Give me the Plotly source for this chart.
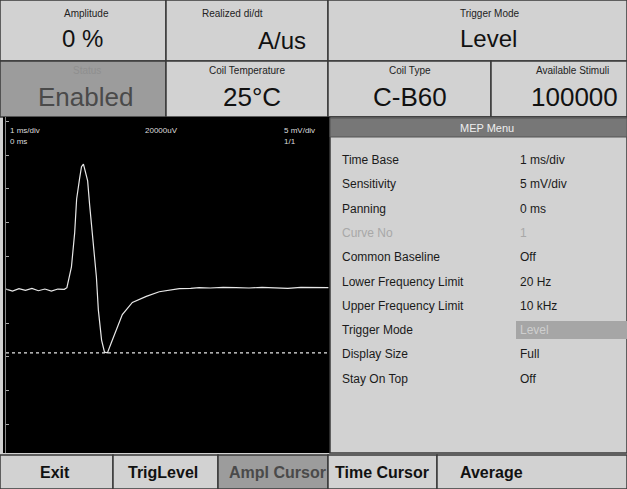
import plotly.graph_objects as go

# ---------------- data ----------------
time_ms = [0.10, 0.30, 0.50, 0.70, 0.90, 1.10, 1.30, 1.50, 1.70, 1.90, 1.98,
           2.06, 2.12, 2.22, 2.28, 2.37, 2.43, 2.49, 2.55, 2.62, 2.68, 2.77,
           2.89, 2.95, 3.05, 3.14, 3.23, 3.35, 3.51, 3.69, 4.00, 4.43, 4.83,
           5.20, 5.45, 5.80, 6.06, 6.40, 6.80, 7.20, 7.60, 8.00, 8.40, 8.80,
           9.20, 9.60, 10.05]
amplitude_mV = [0.1, -0.2, 0.15, -0.1, 0.2, -0.15, 0.1, -0.2, 0.1, 0.05, 0.3,
                1.9, 3.4, 8.5, 13.5, 16.5, 18.3, 18.7, 17.7, 16.2, 12.7, 8.5,
                1.9, -3.0, -7.5, -9.3, -9.4, -7.9, -6.0, -3.7, -1.9, -1.0, -0.3,
                0.0, 0.15, 0.2, 0.3, 0.25, 0.35, 0.3, 0.25, 0.35, 0.3, 0.2,
                0.35, 0.3, 0.3]
cursor_time_ms = [0.1, 10.1]
cursor_mV = [-9.4, -9.4]

top_labels = ["Amplitude", "Realized di/dt", "Trigger Mode",
              "Status", "Coil Temperature", "Coil Type", "Available Stimuli"]
top_values = ["0 %", "A/us", "Level", "Enabled", "25°C", "C-B60", "100000"]

scope_info = ["1 ms/div", "0 ms", "20000uV", "5 mV/div", "1/1"]

menu_title = "MEP Menu"
menu_items = ["Time Base", "Sensitivity", "Panning", "Curve No", "Common Baseline",
              "Lower Frequency Limit", "Upper Frequency Limit", "Trigger Mode",
              "Display Size", "Stay On Top"]
menu_values = ["1 ms/div", "5 mV/div", "0 ms", "1", "Off", "20 Hz", "10 kHz",
               "Level", "Full", "Off"]

buttons = ["Exit", "TrigLevel", "Ampl Cursor", "Time Cursor", "Average"]

# ---------------- figure ----------------
W, H = 627, 489
BG = "#d2d2d2"
DARK = "#9c9c9c"
LINE = "#3a3a3a"
FONT = "Liberation Sans, Arial, sans-serif"


def px(x):
    return x / W


def py(y):
    return 1 - y / H


fig = go.Figure()
fig.add_trace(go.Scatter(x=time_ms, y=amplitude_mV, mode="lines",
                         line=dict(color="#e8e8e8", width=1.2), hoverinfo="skip"))
fig.add_trace(go.Scatter(x=cursor_time_ms, y=cursor_mV, mode="lines",
                         line=dict(color="#e6e6e6", width=1.2, dash="dot"), hoverinfo="skip"))

shapes = []
ann = []


def rect(x0, y0, x1, y1, fill, line=LINE, lw=1.5):
    shapes.append(dict(type="rect", xref="paper", yref="paper",
                       x0=px(x0), x1=px(x1), y0=py(y1), y1=py(y0),
                       fillcolor=fill, line=dict(color=line, width=lw), layer="below"))


def text(x, y, s, size, color="#111", anchor="center", bold=False):
    ann.append(dict(xref="paper", yref="paper", x=px(x), y=py(y), text=("<b>%s</b>" % s) if bold else s,
                    showarrow=False, xanchor=anchor, yanchor="middle",
                    font=dict(size=size, color=color, family=FONT)))


# top cells
cells = [(0, 0, 166, 61, BG), (166, 0, 328, 61, BG), (328, 0, 627, 61, BG),
         (0, 61, 166, 117, DARK), (166, 61, 328, 117, BG), (328, 61, 491, 117, BG),
         (491, 61, 627, 117, BG)]
for c in cells:
    rect(*c)

label_pos = [(86, 14), (232, 13), (490, 13), (87, 71), (247, 71), (410, 71), (572, 71)]
value_pos = [(83, 39, "center"), (308, 40, "right"), (488, 39, "center"), (85, 97, "center"),
             (252, 97, "center"), (410, 97, "center"), (574, 97, "center")]
for i in range(len(top_labels)):
    lc = "#8f8f8f" if top_labels[i] == "Status" else "#222"
    text(label_pos[i][0], label_pos[i][1], top_labels[i], 10, lc)
    vc = "#4a4a4a" if top_values[i] == "Enabled" else "#111"
    vs = 24 if i < 3 else 26
    text(value_pos[i][0], value_pos[i][1], top_values[i], vs, vc, value_pos[i][2])

# scope black panel frame
rect(3, 117, 330, 453, "#000000", line=BG, lw=0)

# scope info text
text(8, 130, scope_info[0], 8, "#dddddd", "left")
text(8, 141, scope_info[1], 8, "#dddddd", "left")
text(161, 130, scope_info[2], 8, "#dddddd")
text(282, 130, scope_info[3], 8, "#dddddd", "left")
text(282, 141, scope_info[4], 8, "#dddddd", "left")

# menu panel
rect(330, 117, 627, 453, BG)
rect(330, 118, 627, 137, "#777777", line="#555", lw=1)
text(487, 128, menu_title, 11, "#eeeeee")
menu_y0, menu_dy = 160, 24.3
for i, (lab, val) in enumerate(zip(menu_items, menu_values)):
    y = menu_y0 + i * menu_dy
    grey = lab == "Curve No"
    if lab == "Trigger Mode":
        rect(516, y - 9, 627, y + 9, "#a6a6a6", line="#a6a6a6", lw=0)
    text(340, y, lab, 12, "#a8a8a8" if grey else "#1a1a1a", "left")
    vcol = "#a8a8a8" if grey else ("#cfcfcf" if lab == "Trigger Mode" else "#1a1a1a")
    text(518, y, val, 12, vcol, "left")

# bottom buttons
btn_bounds = [(0, 113), (113, 218), (218, 328), (328, 437), (437, 627)]
btn_text_x = [55, 163, 277, 382, 491]
for i, b in enumerate(buttons):
    x0, x1 = btn_bounds[i]
    rect(x0, 455, x1, 489, DARK if b == "Ampl Cursor" else BG)
    text(btn_text_x[i], 472, b, 16, "#4a4a4a" if b == "Ampl Cursor" else "#111", bold=True)

fig.update_layout(
    width=W, height=H, margin=dict(l=0, r=0, t=0, b=0),
    paper_bgcolor=BG, plot_bgcolor="#000000", showlegend=False,
    shapes=shapes, annotations=ann,
    xaxis=dict(domain=[px(6), px(330)], range=[0.1, 10.1], showgrid=False,
               zeroline=False, showticklabels=False, ticks="", showline=False, fixedrange=True),
    yaxis=dict(domain=[py(453), py(117)], range=[-24.3, 25.7], showgrid=False,
               zeroline=False, showticklabels=False, ticks="inside", ticklen=3,
               tickcolor="#aaaaaa", dtick=5, tick0=0, showline=True,
               linecolor="#888888", linewidth=1, fixedrange=True),
)

fig.write_html("out.html", config={"displayModeBar": False},
               post_script="document.body.style.margin='0';document.body.style.overflow='hidden';")
